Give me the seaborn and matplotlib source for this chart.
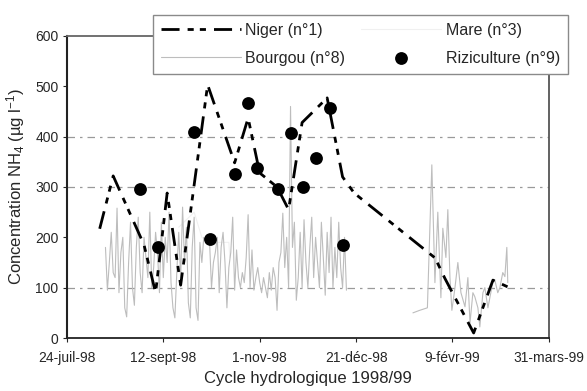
import numpy as np
import pandas as pd
import matplotlib
matplotlib.use("Agg")
import matplotlib.pyplot as plt
import seaborn as sns

# Jours comptés depuis le 24 juillet 1998
debut = pd.Timestamp("1998-07-24")

# Niger (n°1)
niger_jours = [17, 24, 40, 46, 52, 59, 73, 87, 94, 100, 109, 115, 122, 135,
               143, 149, 191, 196, 211, 221, 229]
niger_nh4 = [217, 322, 185, 90, 288, 105, 503, 348, 437, 328, 300, 255, 428,
             477, 320, 288, 159, 119, 10, 115, 101]

# Riziculture (n°9)
riz_jours = [38, 47, 66, 74, 87, 94, 98.5, 109.5, 116, 122.5, 129, 136.5, 143]
riz_nh4 = [296, 181, 409, 197, 326, 467, 338, 296, 407, 300, 358, 457, 185]

# Bourgou (n°8) : première période (août - décembre 1998)
bourgou1_jours = list(range(20, 146))
bourgou1_nh4 = [180, 95, 150, 210, 130, 120, 258, 90, 170, 200, 60,
                42, 150, 230, 100, 65, 180, 240, 130, 90, 200,
                160, 120, 250, 100, 140, 210, 170, 90, 230, 120,
                200, 150, 250, 110, 60, 40, 130, 210, 120, 260,
                150, 220, 70, 40, 180, 240, 60, 35, 190, 150,
                200, 195, 190, 190, 100, 150, 170, 200, 90, 180,
                210, 150, 60, 140, 170, 240, 95, 175, 120, 100,
                130, 110, 160, 245, 100, 175, 95, 120, 140, 110,
                90, 120, 100, 80, 130, 95, 140, 120, 55, 150,
                170, 248, 140, 200, 100, 460, 180, 230, 75, 120,
                210, 100, 235, 150, 100, 180, 240, 120, 200, 150,
                100, 230, 160, 85, 210, 130, 240, 100, 180, 120,
                230, 140, 100, 200, 95]

# Bourgou (n°8) : seconde période (janvier - mars 1999)
bourgou2_jours = [179.5, 183, 187, 189.3, 190.9, 192.4, 194, 195, 196.6, 197.6,
                  198.7, 199.7, 201.3, 202.8, 204.4, 206.5, 208, 209.1, 210.6,
                  211.6, 213.2, 214.2, 215.8, 216.8, 218.4, 219.4, 220.9, 222,
                  223.5, 224.6, 226.1, 227.2, 228.2, 228.7]
bourgou2_nh4 = [50, 55, 60, 344, 110, 250, 80, 218, 160, 255, 120, 55, 100, 150,
                90, 62, 120, 30, 90, 82, 60, 22, 90, 100, 60, 80, 110, 115, 90,
                100, 130, 122, 180, 110]

# Mare (n°3)
mare_jours = [58, 62, 66, 70, 74, 78, 84, 84.5]
mare_nh4 = [220, 235, 250, 200, 190, 190, 190, 160]

# Graduations de l'axe des temps
tick_jours = [0, 50, 100, 150, 200, 250]
tick_labels = ["24-juil-98", "12-sept-98", "1-nov-98", "21-déc-98",
               "9-févr-99", "31-mars-99"]


def dates(jours):
    return debut + pd.to_timedelta(np.asarray(jours, dtype=float), unit="D")


sns.set_style("white")
plt.rcParams["font.family"] = ["Liberation Sans", "DejaVu Sans"]
plt.rcParams["mathtext.fontset"] = "custom"
plt.rcParams["mathtext.rm"] = "Liberation Sans"
plt.rcParams["mathtext.it"] = "Liberation Sans:italic"

fig = plt.figure(figsize=(5.87, 3.91), dpi=100)
ax = fig.add_axes([0.114, 0.1355, 0.821, 0.7725])

# Lignes de grille pointillées
for y in [100, 300, 400]:
    ax.axhline(y, color="#9a9a9a", lw=0.9, ls=(0, (6, 4, 2, 4)), zorder=0)

b1 = pd.DataFrame({"date": dates(bourgou1_jours), "nh4": bourgou1_nh4})
b2 = pd.DataFrame({"date": dates(bourgou2_jours), "nh4": bourgou2_nh4})
sns.lineplot(data=b1, x="date", y="nh4", ax=ax, color="#bdbdbd", lw=0.8,
             label="Bourgou (n°8)", zorder=2)
sns.lineplot(data=b2, x="date", y="nh4", ax=ax, color="#bdbdbd", lw=0.8,
             zorder=2, legend=False)

mare = pd.DataFrame({"date": dates(mare_jours), "nh4": mare_nh4})
sns.lineplot(data=mare, x="date", y="nh4", ax=ax, color="#f0f0f0", lw=0.8,
             label="Mare (n°3)", zorder=1)

niger = pd.DataFrame({"date": dates(niger_jours), "nh4": niger_nh4})
sns.lineplot(data=niger, x="date", y="nh4", ax=ax, color="black", lw=2.0,
             ls=(0, (6.5, 2.9, 2.2, 2.2, 2.2, 2.9)), label="Niger (n°1)",
             zorder=3)

riz = pd.DataFrame({"date": dates(riz_jours), "nh4": riz_nh4})
sns.scatterplot(data=riz, x="date", y="nh4", ax=ax, color="black", s=85,
                edgecolor="black", linewidth=0, label="Riziculture (n°9)",
                zorder=4)

ax.set_xlim(dates([0])[0], dates([250])[0])
ax.set_ylim(0, 600)
ax.set_xticks(dates(tick_jours))
ax.set_xticklabels(tick_labels, fontsize=10)
ax.set_yticks([0, 100, 200, 300, 400, 500, 600])
ax.tick_params(axis="y", labelsize=10, length=3, width=0.8, direction="out",
               left=True, pad=3)
ax.tick_params(axis="x", length=3, width=0.8, direction="out", bottom=True,
               pad=6)
ax.set_xlabel("Cycle hydrologique 1998/99", fontsize=12, labelpad=5)
ax.set_ylabel("Concentration NH$_4$ (µg l$^{-1}$)", fontsize=12, labelpad=6)

for side, col, lw in [("left", "#222222", 1.5), ("bottom", "#222222", 1.3),
                      ("right", "#555555", 1.3), ("top", "#666666", 1.3)]:
    ax.spines[side].set_color(col)
    ax.spines[side].set_linewidth(lw)

handles, labels = ax.get_legend_handles_labels()
order = ["Niger (n°1)", "Bourgou (n°8)", "Mare (n°3)", "Riziculture (n°9)"]
hmap = dict(zip(labels, handles))
leg = ax.legend([hmap[k] for k in order], order, ncol=2, loc="upper right",
                bbox_to_anchor=(0.968, 0.962), bbox_transform=fig.transFigure,
                fontsize=11.5, frameon=True, fancybox=False, framealpha=1,
                edgecolor="#8a8a8a", handlelength=5.0, columnspacing=1.0,
                labelspacing=0.8, borderpad=0.5, handletextpad=0.3,
                scatterpoints=1, borderaxespad=0)
leg.get_frame().set_linewidth(1.0)
leg.set_zorder(10)

fig.savefig("out.png", dpi=100, facecolor="white")
